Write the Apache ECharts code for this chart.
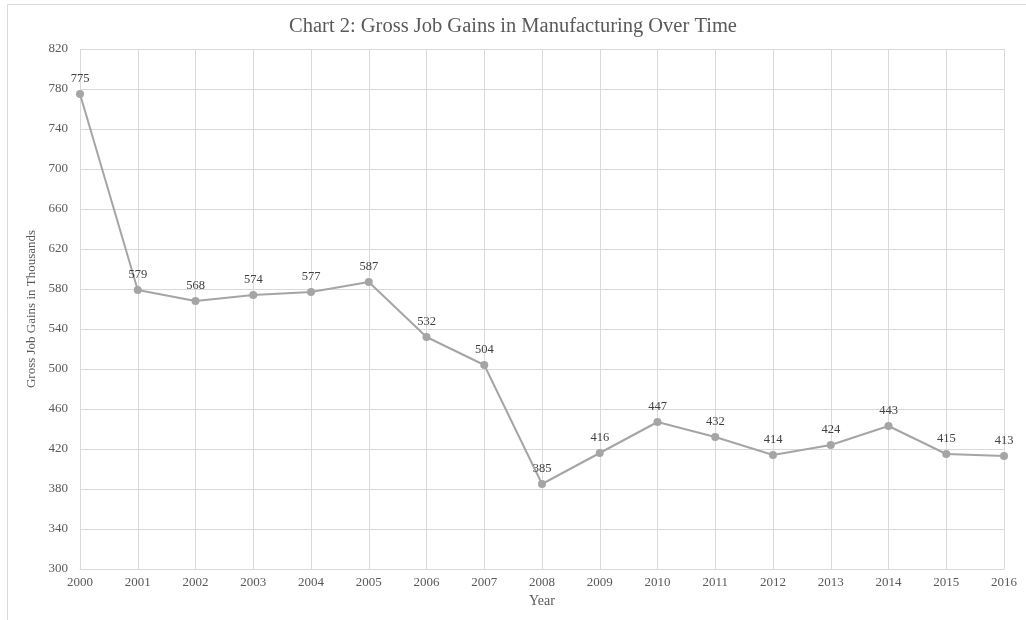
<!DOCTYPE html>
<html>
<head>
<meta charset="utf-8">
<script src="https://cdn.jsdelivr.net/npm/echarts@6/dist/echarts.min.js"></script>
<style>
html,body{margin:0;padding:0;background:#fff;}
#chart{width:1026px;height:620px;}
</style>
</head>
<body>
<div id="chart"></div>
<script>
const years = ['2000','2001','2002','2003','2004','2005','2006','2007','2008','2009','2010','2011','2012','2013','2014','2015','2016'];
const gains = [775,579,568,574,577,587,532,504,385,416,447,432,414,424,443,415,413];
const titleText = 'Chart 2: Gross Job Gains in Manufacturing Over Time';
const xName = 'Year';
const yName = 'Gross Job Gains in Thousands';

const serif = '"Liberation Serif", "DejaVu Serif", serif';
const chart = echarts.init(document.getElementById('chart'));
chart.setOption({
  backgroundColor: '#fff',
  animation: false,
  graphic: [{
    type: 'rect', silent: true, z: -10,
    shape: {x: 7.5, y: 4.5, width: 1030, height: 640},
    style: {fill: 'none', stroke: '#d9d9d9', lineWidth: 1}
  }],
  title: {
    text: titleText,
    left: 'center', top: 11,
    textStyle: {fontFamily: serif, fontSize: 20.5, fontWeight: 'normal', color: '#595959'}
  },
  grid: {left: 80, right: 22, top: 49, bottom: 51},
  xAxis: {
    type: 'category', data: years, boundaryGap: false,
    name: xName, nameLocation: 'middle', nameGap: 25,
    nameTextStyle: {fontFamily: serif, fontSize: 14, color: '#595959'},
    axisLine: {lineStyle: {color: '#d9d9d9', width: 1}},
    axisTick: {show: false},
    axisLabel: {fontFamily: serif, fontSize: 13, color: '#595959', margin: 7},
    splitLine: {show: true, lineStyle: {color: '#d9d9d9', width: 1}}
  },
  yAxis: {
    type: 'value', min: 300, max: 820, interval: 40,
    name: yName, nameLocation: 'middle', nameGap: 35, nameRotate: 90,
    nameTextStyle: {fontFamily: serif, fontSize: 13, color: '#595959'},
    axisLine: {show: false},
    axisTick: {show: false},
    axisLabel: {fontFamily: serif, fontSize: 13, color: '#595959', margin: 12},
    splitLine: {lineStyle: {color: '#d9d9d9', width: 1}}
  },
  series: [{
    type: 'line', data: gains,
    symbol: 'circle', symbolSize: 8,
    lineStyle: {color: '#a5a5a5', width: 2},
    itemStyle: {color: '#a5a5a5'},
    label: {show: true, position: 'top', distance: 5, fontFamily: serif, fontSize: 12.5, color: '#404040'}
  }]
});
</script>
</body>
</html>
